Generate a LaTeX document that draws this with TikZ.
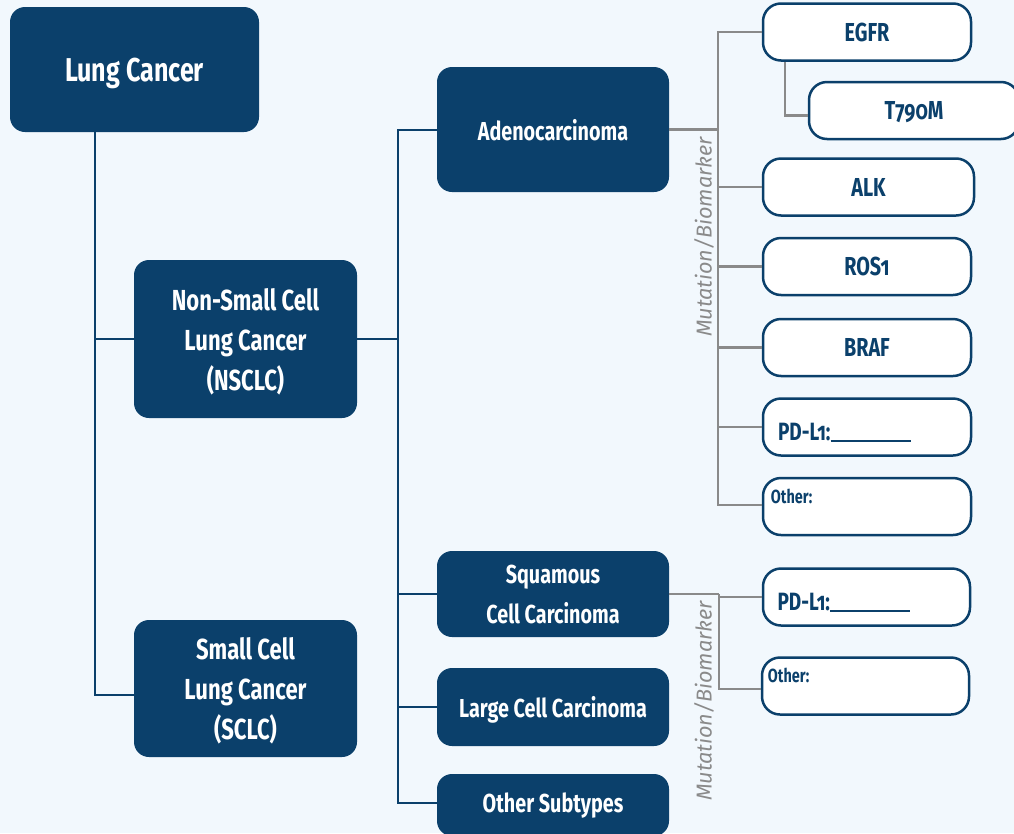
\documentclass[tikz,border=0pt]{standalone}
\usepackage{fontspec}
\setmainfont{Fira Sans}[FakeStretch=0.76,Numbers=OldStyle]
\newfontfamily\markfont{Fira Sans}
\usepackage{tikz}
\usetikzlibrary{positioning}
\definecolor{DBlue}{RGB}{11,64,107}
\definecolor{LBack}{RGB}{242,248,253}
\definecolor{MGray}{RGB}{138,138,138}
\tikzset{darkbox/.style={fill=DBlue, text=white, rounded corners=15pt,
  align=center, inner sep=0pt, text depth=0pt, font=\fontsize{26}{40}\selectfont\bfseries},
  whitebox/.style={draw=DBlue, line width=2.5pt, fill=white, text=DBlue,
  rounded corners=18pt, inner sep=0pt, minimum width=208pt, minimum height=57pt,
  text depth=0pt, font=\fontsize{26}{30}\selectfont\bfseries},
  pdbox/.style={whitebox, align=left, text width=178pt, text height=26pt,
  font=\fontsize{25}{28}\selectfont\bfseries},
  otherlabel/.style={anchor=north west, inner sep=0pt, text=DBlue,
  font=\fontsize{19}{22}\selectfont\bfseries},
  navyline/.style={draw=DBlue, line width=2pt},
  grayline/.style={draw=MGray, line width=2.5pt},
  mutlabel/.style={rotate=90, text=MGray, inner sep=0pt,
  font=\markfont\fontsize{21.6}{24}\selectfont\itshape}}

\begin{document}
\begin{tikzpicture}[x=1pt,y=-1pt]
\useasboundingbox (0,0) rectangle (1014,833);
\fill[LBack] (0,0) rectangle (1014,833);

% main subtypes
\node[darkbox, minimum width=249pt, minimum height=125pt,
  font=\fontsize{33}{40}\selectfont\bfseries] (lung) at (134.5,69.5) {Lung Cancer};
\node[darkbox, minimum width=223pt, minimum height=158pt,
  font=\fontsize{29}{40}\selectfont\bfseries] (nsclc) at (245.5,339) {Non-Small Cell\\Lung Cancer\\(NSCLC)};
\node[darkbox, minimum width=223pt, minimum height=137pt,
  font=\fontsize{29}{40}\selectfont\bfseries] (sclc) at (245.5,688.5) {Small Cell\\Lung Cancer\\(SCLC)};

\node[darkbox, minimum width=232pt, minimum height=125pt] (adeno) at (553,129.5) {Adenocarcinoma};
\node[darkbox, minimum width=232pt, minimum height=86pt] (squam) at (553,594) {Squamous\\Cell Carcinoma};
\node[darkbox, minimum width=232pt, minimum height=78pt] (large) at (553,707) {Large Cell Carcinoma};
\node[darkbox, minimum width=232pt, minimum height=62pt, text height=14pt] (othersub) at (553,805) {Other Subtypes};

% biomarkers
\node[whitebox] (egfr) at (867,32) {EGFR};
\node[whitebox, minimum width=210pt] (t790) at (914,110.5) {T790M};
\node[whitebox, minimum width=211pt] (alk) at (868.5,187) {ALK};
\node[whitebox] (ros) at (867,266.5) {ROS1};
\node[whitebox] (braf) at (867,347.5) {BRAF};
\node[pdbox] (pdla) at (867,427) {PD-L1:\rule[-2pt]{80pt}{2.2pt}};
\node[whitebox] (othera) at (867,506.5) {};
\node[otherlabel] at ([xshift=9pt,yshift=-12pt]othera.north west) {Other:};

\node[pdbox, minimum width=207pt] (pdlb) at (866.5,597) {PD-L1:\rule[-2pt]{80pt}{2.2pt}};
\node[whitebox, minimum width=207pt] (otherb) at (865.5,686) {};
\node[otherlabel] at ([xshift=7pt,yshift=-12pt]otherb.north west) {Other:};

\node[mutlabel] (muta) at (704,237) {Mutation/Biomarker};
\node[mutlabel] (mutb) at (704,701) {Mutation/Biomarker};

% navy tree
\coordinate (lungbus) at (95,132);
\coordinate (nsbus) at (398,339);
\draw[navyline] (lungbus) |- (nsclc.west);
\draw[navyline] (lungbus) |- ([yshift=-6.5pt]sclc.west);
\draw[navyline] (nsclc.east) -- (nsbus);
\draw[navyline] (nsbus) |- (adeno.west);
\draw[navyline] (nsbus) |- (squam.west);
\draw[navyline] (nsbus) |- (large.west);
\draw[navyline] (nsbus) |- ([yshift=2pt]othersub.west);

% gray tree
\coordinate (adbus) at (718,129.5);
\coordinate (sqbus) at (719,594);
\draw[grayline] (adeno.east) -- (adbus);
\draw[grayline] (adbus) |- (egfr.west);
\draw[grayline] (adbus) |- (alk.west);
\draw[grayline] (adbus) |- (ros.west);
\draw[grayline] (adbus) |- (braf.west);
\draw[grayline] (adbus) |- (pdla.west);
\draw[grayline] (adbus) |- ([yshift=1.5pt]othera.west);
\draw[grayline] ([xshift=23pt]egfr.south west) |- ([yshift=-5pt]t790.west);
\draw[grayline] (squam.east) -- (sqbus);
\draw[grayline] (sqbus) |- (pdlb.west);
\draw[grayline] (sqbus) |- ([yshift=-3pt]otherb.west);
\end{tikzpicture}
\end{document}
